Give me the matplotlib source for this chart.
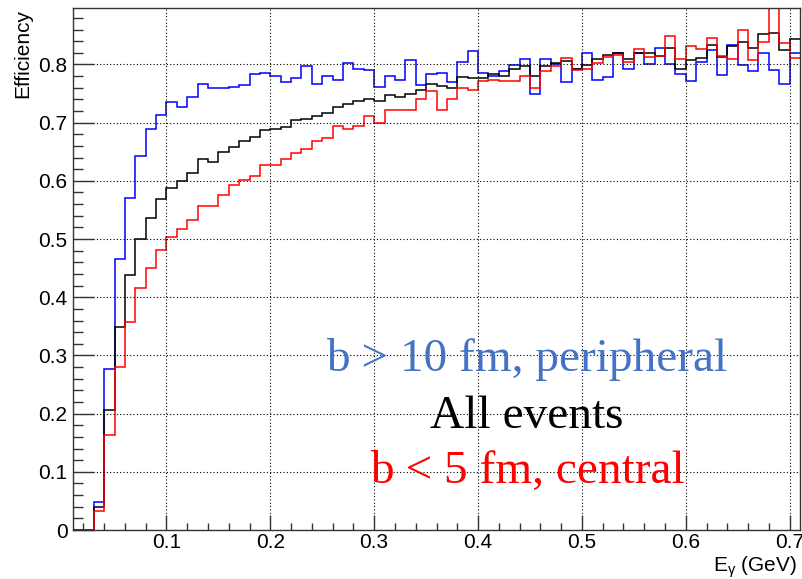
import matplotlib
matplotlib.use('Agg')
import matplotlib.pyplot as plt
from matplotlib.ticker import MultipleLocator, FuncFormatter
import numpy as np

plt.rcParams['font.family'] = ['Liberation Sans', 'DejaVu Sans']
plt.rcParams['mathtext.fontset'] = 'custom'
plt.rcParams['mathtext.rm'] = 'Liberation Sans'
plt.rcParams['mathtext.it'] = 'Liberation Sans'

# 70 bins of 0.01 GeV from 0.01 to 0.71
bin_edges = np.linspace(0.01, 0.71, 71)

eff_peripheral = [
    0, 0, 0.048, 0.277, 0.465, 0.570, 0.642, 0.689, 0.713, 0.736,
    0.727, 0.744, 0.766, 0.759, 0.759, 0.762, 0.765, 0.783, 0.785, 0.781,
    0.770, 0.776, 0.798, 0.766, 0.780, 0.773, 0.803, 0.792, 0.790, 0.762,
    0.780, 0.774, 0.807, 0.765, 0.783, 0.785, 0.769, 0.805, 0.823, 0.785,
    0.781, 0.788, 0.799, 0.809, 0.749, 0.809, 0.801, 0.770, 0.792, 0.819,
    0.774, 0.778, 0.820, 0.792, 0.820, 0.801, 0.829, 0.801, 0.783, 0.772,
    0.804, 0.825, 0.782, 0.833, 0.799, 0.789, 0.820, 0.791, 0.766, 0.820,
]

eff_all = [
    0, 0, 0.039, 0.207, 0.349, 0.438, 0.500, 0.536, 0.568, 0.588,
    0.600, 0.614, 0.637, 0.633, 0.650, 0.659, 0.669, 0.676, 0.687, 0.689,
    0.692, 0.705, 0.707, 0.712, 0.717, 0.727, 0.732, 0.737, 0.741, 0.737,
    0.747, 0.744, 0.750, 0.756, 0.767, 0.763, 0.759, 0.778, 0.776, 0.776,
    0.784, 0.780, 0.792, 0.797, 0.780, 0.797, 0.802, 0.806, 0.792, 0.799,
    0.810, 0.817, 0.820, 0.809, 0.820, 0.819, 0.814, 0.829, 0.792, 0.807,
    0.811, 0.834, 0.813, 0.832, 0.838, 0.828, 0.852, 0.854, 0.825, 0.843,
]

eff_central = [
    0, 0, 0.032, 0.164, 0.280, 0.357, 0.416, 0.451, 0.481, 0.503,
    0.517, 0.532, 0.557, 0.557, 0.575, 0.592, 0.602, 0.609, 0.627, 0.628,
    0.637, 0.647, 0.654, 0.669, 0.674, 0.695, 0.689, 0.694, 0.711, 0.699,
    0.721, 0.721, 0.721, 0.740, 0.754, 0.721, 0.740, 0.760, 0.756, 0.772,
    0.774, 0.772, 0.772, 0.780, 0.759, 0.788, 0.797, 0.811, 0.790, 0.792,
    0.802, 0.812, 0.817, 0.804, 0.827, 0.813, 0.814, 0.849, 0.809, 0.831,
    0.827, 0.845, 0.814, 0.810, 0.859, 0.808, 0.839, 0.950, 0.836, 0.811,
]

fig = plt.figure(figsize=(8.02, 5.79), dpi=100)
ax = fig.add_axes([73 / 802, 49 / 579, 727 / 802, 522 / 579])

ax.stairs(eff_peripheral, bin_edges, baseline=None, color='#0000ff', lw=1.1)
ax.stairs(eff_all, bin_edges, baseline=None, color='black', lw=1.1)
ax.stairs(eff_central, bin_edges, baseline=None, color='#ff0000', lw=1.1)

ax.set_xlim(0.01, 0.71)
ax.set_ylim(0, 0.897)

ax.xaxis.set_major_locator(MultipleLocator(0.1))
ax.xaxis.set_minor_locator(MultipleLocator(0.02))
ax.yaxis.set_major_locator(MultipleLocator(0.1))
ax.yaxis.set_minor_locator(MultipleLocator(0.02))
fmt = FuncFormatter(lambda v, p: '%g' % round(v, 2))
ax.xaxis.set_major_formatter(fmt)
ax.yaxis.set_major_formatter(fmt)

ax.tick_params(axis='both', which='both', direction='in', labelsize=15, color='#333333')
ax.tick_params(axis='y', which='major', length=15, width=1, pad=4)
ax.tick_params(axis='y', which='minor', length=7.5, width=1)
ax.tick_params(axis='x', which='major', length=10.5, width=1, pad=2.5)
ax.tick_params(axis='x', which='minor', length=5.3, width=1)

ax.grid(True, which='major', color='black', linestyle=(0, (1, 2)), lw=0.8)
for s in ax.spines.values():
    s.set_linewidth(1.0)
    s.set_color('#333333')

fig.text(23 / 802, 1 - 9 / 579, 'Efficiency', rotation=90, ha='center', va='top', fontsize=15)
fig.text(797 / 802, 1 - 572 / 579, r'E$_{\gamma}$ (GeV)', ha='right', va='baseline', fontsize=15)

serif = ['Liberation Serif', 'DejaVu Serif']
fig.text(527 / 802, 1 - 371 / 579, 'b > 10 fm, peripheral', color='#4472c4',
         ha='center', va='baseline', fontsize=34, family=serif)
fig.text(527 / 802, 1 - 428 / 579, 'All events', color='black',
         ha='center', va='baseline', fontsize=34, family=serif)
fig.text(527 / 802, 1 - 483 / 579, 'b < 5 fm, central', color='#ff0000',
         ha='center', va='baseline', fontsize=34, family=serif)

fig.savefig('out.png', dpi=100)
